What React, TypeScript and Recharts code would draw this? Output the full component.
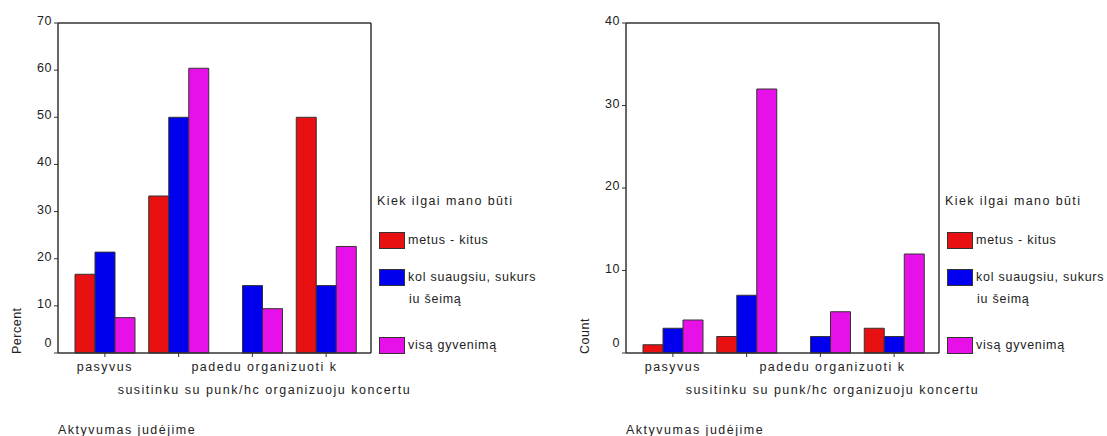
import React from 'react';
import { BarChart, Bar, XAxis, YAxis } from 'recharts';

// Aktyvumas judėjime x Kiek ilgai mano būti
const categories = ['pasyvus', 'susitinku su punk/hc', 'padedu organizuoti k', 'organizuoju koncertu'];

const legendTitle = 'Kiek ilgai mano būti';
const seriesKeys = ['metus', 'kol', 'visa'];
const seriesLabels = [['metus - kitus'], ['kol suaugsiu, sukurs', 'iu šeimą'], ['visą gyvenimą']];
const seriesColors = ['#E81010', '#0000EE', '#E810E8'];

const percentMetus = [16.7, 33.3, 0, 50.0];
const percentKol = [21.4, 50.0, 14.3, 14.3];
const percentVisa = [7.5, 60.4, 9.4, 22.6];

const countMetus = [1, 2, 0, 3];
const countKol = [3, 7, 2, 2];
const countVisa = [4, 32, 5, 12];

const percentTicks = [0, 10, 20, 30, 40, 50, 60, 70];
const countTicks = [0, 10, 20, 30, 40];

const xTitle = 'Aktyvumas judėjime';

const FONT = "'Liberation Sans', Arial, sans-serif";
const TEXT = '#222';
const LINE = '#333';

const build = (a: number[], b: number[], c: number[]) =>
  categories.map((name, i) => ({ name, metus: a[i], kol: b[i], visa: c[i] }));

const percentData = build(percentMetus, percentKol, percentVisa);
const countData = build(countMetus, countKol, countVisa);

// long labels sit left-aligned in a fixed box around the tick, short ones are centred
const XTick = (props: any) => {
  const { x, y, payload, index } = props;
  const dy = index % 2 === 0 ? 12 : 35;
  const long = String(payload.value).length > 12;
  return (
    <text x={long ? x - 61 : x} y={y + dy} textAnchor={long ? 'start' : 'middle'}
      fontFamily={FONT} fontSize={12.5} letterSpacing={1.5} fill={TEXT}>
      {payload.value}
    </text>
  );
};

const YTick = (props: any) => {
  const { x, y, payload } = props;
  const dy = payload.value === 0 ? -6 : 2;
  return (
    <text x={x} y={y + dy} textAnchor="end" fontFamily={FONT} fontSize={12.5}
      letterSpacing={0.5} fill={TEXT}>
      {payload.value}
    </text>
  );
};

function Legend({ left }: { left: number }) {
  let top = 232;
  const items = seriesLabels.map((lines, i) => {
    const t = top;
    top += 37 + (lines.length - 1) * 31;
    return (
      <div key={i}>
        <div style={{
          position: 'absolute', left: left + 2, top: t, width: 26, height: 17,
          boxSizing: 'border-box', border: `1px solid ${LINE}`, background: seriesColors[i],
        }} />
        {lines.map((ln, j) => (
          <div key={j} style={{
            position: 'absolute', left: left + 31 + (j > 0 ? 1 : 0), top: t + 1 + j * 22,
            lineHeight: '14px', whiteSpace: 'nowrap', letterSpacing: 0.75,
          }}>{ln}</div>
        ))}
      </div>
    );
  });
  return (
    <div style={{ fontFamily: FONT, fontSize: 12.5, letterSpacing: 1.4, color: TEXT }}>
      <div style={{ position: 'absolute', left, top: 194, lineHeight: '14px', whiteSpace: 'nowrap' }}>
        {legendTitle}
      </div>
      {items}
    </div>
  );
}

function Panel({ left, data, ticks, yLabel }: { left: number; data: any[]; ticks: number[]; yLabel: string }) {
  const max = ticks[ticks.length - 1];
  return (
    <>
      <div style={{ position: 'absolute', left, top: 0 }}>
        <BarChart width={520} height={436} data={data} barGap={0} barSize={20}
          margin={{ top: 22, right: 148, bottom: 0, left: 0 }}>
          <XAxis dataKey="name" height={83} padding={{ left: 10, right: 8 }} interval={0}
            tickSize={4} tickLine={{ stroke: LINE }} axisLine={{ stroke: LINE, strokeWidth: 1.5 }}
            tick={<XTick />}
            label={{
              content: () => (
                <text x={58} y={434} fontFamily={FONT} fontSize={12.5} letterSpacing={1.5} fill={TEXT}>
                  {xTitle}
                </text>
              ),
            }} />
          <XAxis xAxisId="top" dataKey="name" orientation="top" height={1} tick={false}
            tickLine={false} axisLine={{ stroke: LINE, strokeWidth: 1.5 }} />
          <YAxis width={58} domain={[0, max]} ticks={ticks} interval={0} tickSize={4}
            tickLine={{ stroke: LINE }} axisLine={{ stroke: LINE, strokeWidth: 1.5 }}
            tick={<YTick />}
            label={{
              content: () => (
                <text x={21} y={354} transform="rotate(-90 21 354)" fontFamily={FONT} fontSize={12.5}
                  letterSpacing={0.5} fill={TEXT}>
                  {yLabel}
                </text>
              ),
            }} />
          <YAxis yAxisId="r" orientation="right" width={1} domain={[0, max]} tick={false}
            tickLine={false} axisLine={{ stroke: LINE, strokeWidth: 1.5 }} />
          {seriesKeys.map((k, i) => (
            <Bar key={k} dataKey={k} fill={seriesColors[i]} stroke={LINE} strokeWidth={1}
              isAnimationActive={false} />
          ))}
        </BarChart>
      </div>
      <Legend left={left + 377} />
    </>
  );
}

export default function App() {
  return (
    <div style={{ position: 'fixed', left: 0, top: 0, width: 1107, height: 436, background: '#fff' }}>
      <Panel left={0} data={percentData} ticks={percentTicks} yLabel="Percent" />
      <Panel left={568} data={countData} ticks={countTicks} yLabel="Count" />
    </div>
  );
}
